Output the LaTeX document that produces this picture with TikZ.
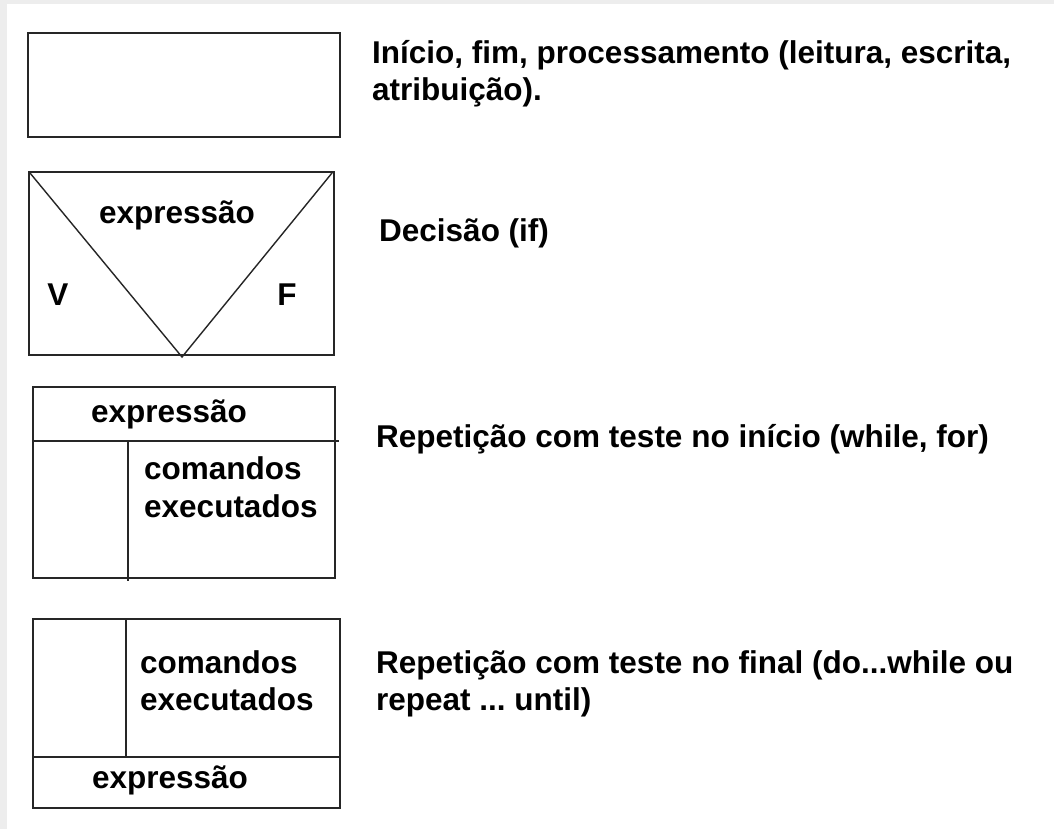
\documentclass[tikz,border=0pt]{standalone}
\usepackage{fontspec}
\setmainfont{Liberation Sans}
\frenchspacing
\begin{document}
\begin{tikzpicture}[x=1pt,y=-1pt,
  box/.style={draw=black!85,line width=2pt},
  thin/.style={draw=black!85,line width=1.4pt},
  lbl/.style={inner sep=0pt,font=\fontsize{31.5}{37}\selectfont\bfseries,text=black}]
\useasboundingbox (0,0) rectangle (1054,829);
\fill[black!7] (0,0) rectangle (1054,829);
\fill[white] (7,4) rectangle (1054,829);
% box 1
\draw[box] (28,33) rectangle (340,137);
\node[lbl,anchor=base west] (t1a) at (372,64) {Início, fim, processamento (leitura, escrita,};
\node[lbl,anchor=base west] (t1b) at (372,101) {atribuição).};
% box 2
\draw[box] (29,172) rectangle (334,355);
\coordinate (apex) at (182,357);
\draw[thin] (30,173) -- (apex) -- (332,173);
\node[lbl,anchor=base] (e2) at (177,223) {expressão};
\node[lbl,anchor=base] (v) at (58,305) {V};
\node[lbl,anchor=base] (f) at (287,305) {F};
\node[lbl,anchor=base west] (t2) at (379,241) {Decisão (if)};
% box 3
\draw[box] (33,387) rectangle (335,578);
\draw[box] (33,441) -- (339,441);
\draw[box] (128,441) -- (128,581);
\node[lbl,anchor=base] (e3) at (169,422) {expressão};
\node[lbl,anchor=base west] (c3a) at (144,479) {comandos};
\node[lbl,anchor=base west] (c3b) at (144,517) {executados};
\node[lbl,anchor=base west] (t3) at (376,447) {Repetição com teste no início (while, for)};
% box 4
\draw[box] (33,619) rectangle (340,808);
\draw[box] (33,757) -- (340,757);
\draw[box] (126,619) -- (126,757);
\node[lbl,anchor=base west] (c4a) at (140,673) {comandos};
\node[lbl,anchor=base west] (c4b) at (140,710) {executados};
\node[lbl,anchor=base] (e4) at (170,788) {expressão};
\node[lbl,anchor=base west] (t4a) at (376,673) {Repetição com teste no final (do...while ou};
\node[lbl,anchor=base west] (t4b) at (376,710) {repeat ... until)};
\end{tikzpicture}
\end{document}
